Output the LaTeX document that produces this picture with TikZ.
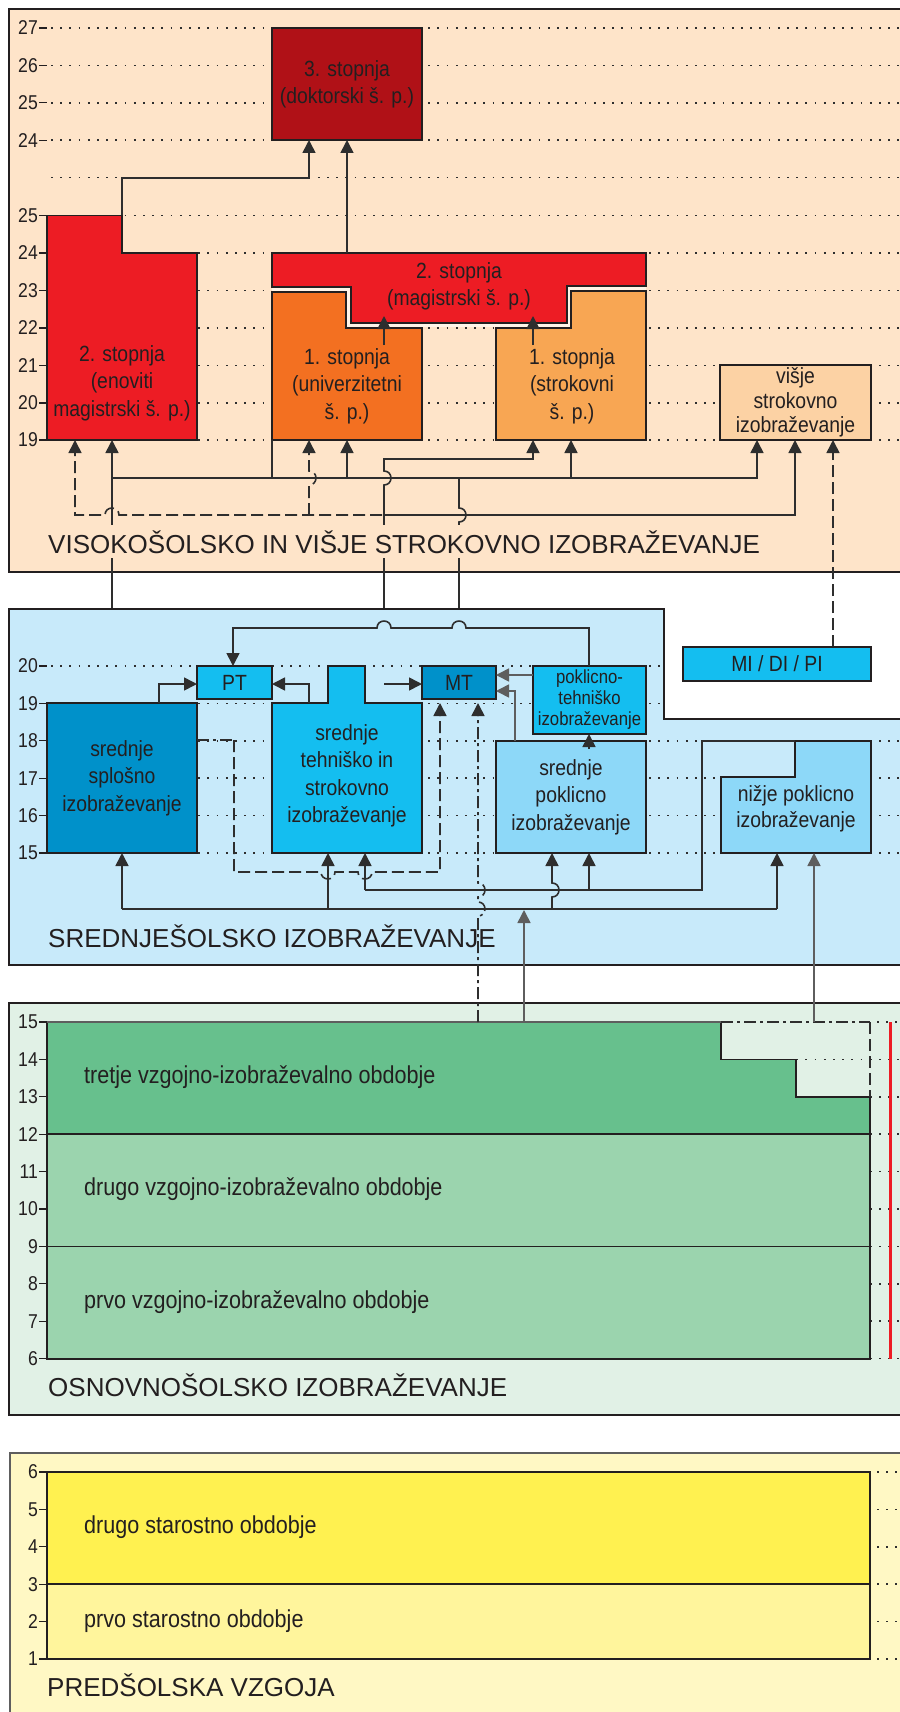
\documentclass[tikz,border=0pt]{standalone}
\usepackage{fontspec}
\setmainfont{Liberation Sans}
\newfontfamily\nf{Liberation Sans}[FakeStretch=0.88]
\usetikzlibrary{arrows.meta}
\definecolor{pTop}{HTML}{FEE4C9}
\definecolor{cDoc}{HTML}{B01117}
\definecolor{cRed}{HTML}{ED1C24}
\definecolor{cOrg}{HTML}{F37021}
\definecolor{cOrgL}{HTML}{F8A653}
\definecolor{cVis}{HTML}{FCD2A4}
\definecolor{gapc}{HTML}{FFF4E8}
\definecolor{pMid}{HTML}{C8EAFA}
\definecolor{cDB}{HTML}{0091CA}
\definecolor{cCy}{HTML}{14BEF0}
\definecolor{cLB}{HTML}{8DD8F8}
\definecolor{pGr}{HTML}{E1F1E6}
\definecolor{cGrD}{HTML}{67C08D}
\definecolor{cGrL}{HTML}{9BD4AE}
\definecolor{pYel}{HTML}{FFF8C4}
\definecolor{cYelD}{HTML}{FFF150}
\definecolor{cYelL}{HTML}{FFF59C}
\definecolor{ink}{HTML}{231F20}
\definecolor{lnk}{HTML}{2E2E2E}
\definecolor{gln}{HTML}{5E5E5E}
\tikzset{
  boxline/.style={draw=ink, line width=1.8pt},
  panel/.style={draw=ink, line width=1.8pt},
  btext/.style={font=\nf\fontsize{22}{27.5}\selectfont, align=center, inner sep=0pt, text=ink},
  gtext/.style={font=\nf\fontsize{24.5}{28}\selectfont, anchor=west, inner sep=0pt, text=ink},
  ttl/.style={font=\fontsize{26}{30}\selectfont, anchor=base west, inner xsep=0pt, inner ysep=5pt, text=ink},
  ax/.style={font=\nf\fontsize{20}{22}\selectfont, anchor=east, inner sep=0pt, text=ink},
  tick/.style={draw=ink, line width=1.3pt},
  gdots/.style={draw=lnk, line width=1.7pt, dash pattern=on 1.7pt off 7.5pt},
  conn/.style={draw=lnk, line width=1.6pt},
  gconn/.style={draw=gln, line width=1.6pt},
  ahead/.style={-{Triangle[length=13pt,width=13pt]}},
  arr/.style={conn, ahead},
  dsh/.style={conn, dash pattern=on 12pt off 5pt},
  dshdot/.style={conn, dash pattern=on 12pt off 4pt on 3pt off 4pt},
}
\begin{document}
\begin{tikzpicture}[x=1pt,y=-1pt]
\useasboundingbox (0,0) rectangle (899,1712);
\fill[white] (0,0) rectangle (899,1712);
% ================= TOP PANEL =================
\filldraw[panel, fill=pTop] (9,9) rectangle (905,572);
\foreach \yy in {28,65.4,102.8,140.2,177.6,215.5,253,290.5,328,365.5,403,440}
  \draw[gdots] (51,\yy) -- (899,\yy);
\foreach \yy/\lab [count=\i] in {28/27,65.4/26,102.8/25,140.2/24,215.5/25,253/24,290.5/23,328/22,365.5/21,403/20,440/19}{
  \node[ax] (ta\i) at (38,\yy) {\lab};
  \draw[tick] (39,\yy) -- (47,\yy);
}
% boxes
\node[boxline, fill=cDoc, minimum width=150pt, minimum height=112pt, btext, font=\nf\fontsize{22}{27}\selectfont] (doc) at (347,84) {3. stopnja\\(doktorski š. p.)};
\filldraw[boxline, fill=cRed] (47,215.5) -- (122,215.5) -- (122,253) -- (197,253) -- (197,440) -- (47,440) -- cycle;
\node[btext] (enov) at (122,383) {2. stopnja\\(enoviti\\magistrski š. p.)};
\filldraw[boxline, fill=cRed] (272,253) -- (646,253) -- (646,286) -- (567,286) -- (567,323) -- (351,323) -- (351,287) -- (272,287) -- cycle;
\node[btext, font=\nf\fontsize{22}{27}\selectfont] (mag) at (459,286.5) {2. stopnja\\(magistrski š. p.)};
\draw[draw=gapc, line width=3pt] (272,289.5) -- (348.5,289.5) -- (348.5,325.5) -- (569,325.5) -- (569,288.5) -- (646,288.5);
\filldraw[boxline, fill=cOrg] (272,292) -- (346,292) -- (346,328) -- (422,328) -- (422,440) -- (272,440) -- cycle;
\node[btext] (univ) at (347,386) {1. stopnja\\(univerzitetni\\š. p.)};
\filldraw[boxline, fill=cOrgL] (496,328) -- (571,328) -- (571,291) -- (646,291) -- (646,440) -- (496,440) -- cycle;
\node[btext] (strok) at (572,386) {1. stopnja\\(strokovni\\š. p.)};
\node[boxline, fill=cVis, minimum width=151pt, minimum height=75pt, btext, font=\nf\fontsize{22}{24.5}\selectfont] (visje) at (795.5,402.5) {višje\\strokovno\\izobraževanje};
% connectors top
\draw[arr] (122,215.5) -- (122,178) -- (309,178) -- (309,140);
\draw[arr] (347,253) -- (347,140);
\draw[arr] (384,345) -- (384,316);
\draw[arr] (533,345) -- (533,316);
\draw[arr] (112,703) -- (112,440);
\draw[arr] (112,478) -- (757,478) -- (757,440);
\draw[arr] (347,478) -- (347,440);
\draw[arr] (571,478) -- (571,440);
\draw[conn] (272,478) -- (272,440);
\draw[arr] (384,703) -- (384,485) .. controls (393.3,485) and (393.3,471) .. (384,471) -- (384,459) -- (533,459) -- (533,440);
\draw[arr] (384,515) -- (795,515) -- (795,440);
\draw[dsh, ahead] (382,515) -- (119,515) .. controls (119,505.7) and (105,505.7) .. (105,515) -- (75,515) -- (75,440);
\draw[dsh, ahead] (309,515) -- (309,485) .. controls (318.3,485) and (318.3,471) .. (309,471) -- (309,440);
\draw[conn] (459,666) -- (459,522) .. controls (468.3,522) and (468.3,508) .. (459,508) -- (459,478);
\draw[dsh, ahead] (833,647) -- (833,440);
\node[ttl, fill=pTop] (t1) at (48,553) {VISOKOŠOLSKO IN VIŠJE STROKOVNO IZOBRAŽEVANJE};
% ================= MIDDLE PANEL =================
\filldraw[panel, fill=pMid] (9,609) -- (664,609) -- (664,719) -- (905,719) -- (905,965) -- (9,965) -- cycle;
\foreach \yy in {666,703.4}
  \draw[gdots] (51,\yy) -- (663,\yy);
\foreach \yy in {740.8,778.2,815.6,853}
  \draw[gdots] (51,\yy) -- (899,\yy);
\foreach \yy/\lab [count=\i] in {666/20,703.4/19,740.8/18,778.2/17,815.6/16,853/15}{
  \node[ax] (ma\i) at (38,\yy) {\lab};
  \draw[tick] (39,\yy) -- (47,\yy);
}
\node[boxline, fill=cDB, minimum width=150pt, minimum height=150pt, btext] (splos) at (122,778) {srednje\\splošno\\izobraževanje};
\node[boxline, fill=cCy, minimum width=75pt, minimum height=33pt, btext] (pt) at (234.5,682.5) {PT};
\filldraw[boxline, fill=cCy] (272,703) -- (328,703) -- (328,666) -- (365,666) -- (365,703) -- (422,703) -- (422,853) -- (272,853) -- cycle;
\node[btext] (tehn) at (347,776) {srednje\\tehniško in\\strokovno\\izobraževanje};
\node[boxline, fill=cDB, minimum width=74pt, minimum height=33pt, btext] (mt) at (459,682.5) {MT};
\node[boxline, fill=cCy, minimum width=113pt, minimum height=68pt, btext, font=\nf\fontsize{19}{21}\selectfont] (pokt) at (589.5,700) {poklicno-\\tehniško\\izobraževanje};
\node[boxline, fill=cLB, minimum width=150pt, minimum height=112pt, btext] (spok) at (571,797) {srednje\\poklicno\\izobraževanje};
\filldraw[boxline, fill=cLB] (721,777) -- (795,777) -- (795,741) -- (871,741) -- (871,853) -- (721,853) -- cycle;
\node[btext, font=\nf\fontsize{22}{26}\selectfont] (nizje) at (796,809) {nižje poklicno\\izobraževanje};
\node[boxline, fill=cCy, minimum width=188pt, minimum height=34pt, btext] (midipi) at (777,664) {MI / DI / PI};
% connectors middle
\draw[arr] (159,703) -- (159,684) -- (197,684);
\draw[arr] (309,703) -- (309,684) -- (272,684);
\draw[arr] (384,684) -- (422,684);
\draw[arr] (589,666) -- (589,628) -- (466,628) .. controls (466,618.7) and (452,618.7) .. (452,628) -- (391,628) .. controls (391,618.7) and (377,618.7) .. (377,628) -- (233,628) -- (233,666);
\draw[gconn, ahead] (533,675) -- (496,675);
\draw[gconn, ahead] (515,741) -- (515,691) -- (496,691);
\draw[arr] (589,749) -- (589,734);
\draw[dshdot] (197,740) -- (234,740);
\draw[dsh, ahead] (234,740) -- (234,872) -- (321,872) .. controls (321,881.3) and (335,881.3) .. (335,872) -- (358,872) .. controls (358,881.3) and (372,881.3) .. (372,872) -- (440,872) -- (440,703);
\draw[conn] (122,909) -- (777,909);
\draw[arr] (122,909) -- (122,853);
\draw[arr] (328,909) -- (328,853);
\draw[arr] (552,909) -- (552,897) .. controls (561.3,897) and (561.3,883) .. (552,883) -- (552,853);
\draw[arr] (777,909) -- (777,853);
\draw[conn] (795,741) -- (702,741) -- (702,890) -- (365,890);
\draw[arr] (365,890) -- (365,853);
\draw[arr] (589,890) -- (589,853);
\node[ttl] (t2) at (48,947) {SREDNJEŠOLSKO IZOBRAŽEVANJE};
% ================= BASIC SCHOOL PANEL =================
\filldraw[panel, fill=pGr] (9,1003) rectangle (905,1415);
\foreach \yy in {1059.4,1096.8,1134.2,1171.6,1209,1246.4,1283.8,1321.2,1358.6}
  \draw[gdots] (51,\yy) -- (899,\yy);
\draw[gdots] (877,1022) -- (899,1022);
\filldraw[boxline, fill=cGrL] (47,1134.2) rectangle (870,1358.6);
\draw[boxline] (47,1246.4) -- (870,1246.4);
\fill[cGrD] (47,1022) -- (721,1022) -- (721,1059.4) -- (796,1059.4) -- (796,1096.8) -- (870,1096.8) -- (870,1134.2) -- (47,1134.2) -- cycle;
\draw[boxline] (47,1134.2) -- (47,1022);
\draw[boxline] (721,1022) -- (721,1059.4) -- (796,1059.4) -- (796,1096.8) -- (870,1096.8) -- (870,1134.2) -- (47,1134.2);
\draw[draw=gln, line width=1.2pt] (47,1022) -- (721,1022);
\draw[gdots, draw=gln] (51,1022) -- (721,1022);
\foreach \yy/\lab [count=\i] in {1022/15,1059.4/14,1096.8/13,1134.2/12,1171.6/11,1209/10,1246.4/9,1283.8/8,1321.2/7,1358.6/6}{
  \node[ax] (oa\i) at (38,\yy) {\lab};
  \draw[tick] (39,\yy) -- (47,\yy);
}
\node[gtext] (o3) at (84,1077) {tretje vzgojno-izobraževalno obdobje};
\node[gtext] (o2) at (84,1189) {drugo vzgojno-izobraževalno obdobje};
\node[gtext] (o1) at (84,1302) {prvo vzgojno-izobraževalno obdobje};
\draw[draw=cRed, line width=3pt] (890,1022) -- (890,1359);
\node[ttl] (t3) at (48,1396) {OSNOVNOŠOLSKO IZOBRAŽEVANJE};
% connectors from basic school
\draw[dshdot] (721,1022) -- (870,1022);
\draw[dsh] (870,1022) -- (870,1097);
\draw[gconn, ahead] (524,1022) -- (524,910);
\draw[gconn, ahead] (814,1022) -- (814,853);
\draw[dshdot, ahead] (478,1022) -- (478,916) .. controls (487.3,916) and (487.3,902) .. (478,902) -- (478,897) .. controls (487.3,897) and (487.3,883) .. (478,883) -- (478,703);
% ================= PRESCHOOL PANEL =================
\filldraw[draw=gln, line width=1.8pt, fill=pYel] (10,1453) rectangle (905,1720);
\foreach \yy in {1472,1509.4,1546.8,1584.2,1621.6,1659}
  \draw[gdots] (877,\yy) -- (899,\yy);
\filldraw[boxline, fill=cYelD] (47,1472) rectangle (870,1584.2);
\filldraw[boxline, fill=cYelL] (47,1584.2) rectangle (870,1659);
\foreach \yy/\lab [count=\i] in {1472/6,1509.4/5,1546.8/4,1584.2/3,1621.6/2,1659/1}{
  \node[ax] (pa\i) at (38,\yy) {\lab};
  \draw[tick] (39,\yy) -- (47,\yy);
}
\node[gtext] (p2) at (84,1527) {drugo starostno obdobje};
\node[gtext] (p1) at (84,1621) {prvo starostno obdobje};
\node[ttl] (t4) at (47,1696) {PREDŠOLSKA VZGOJA};
\end{tikzpicture}
\end{document}
